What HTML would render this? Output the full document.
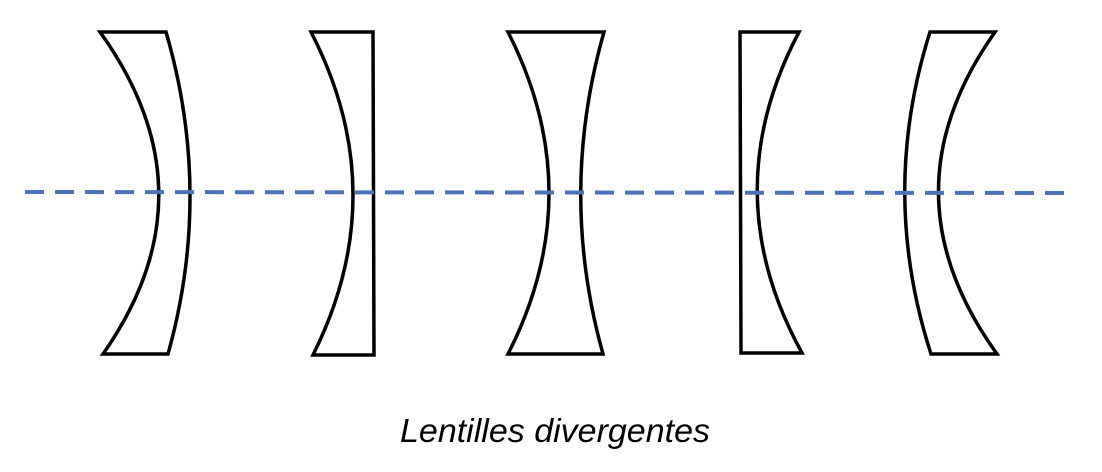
<!DOCTYPE html>
<html><head><meta charset="utf-8"><style>
html,body{margin:0;padding:0;background:#fff;}
svg{display:block}
</style></head><body>
<svg width="1102" height="472" viewBox="0 0 1102 472" xmlns="http://www.w3.org/2000/svg">
<g fill="none" stroke="#000" stroke-width="3.5" stroke-linejoin="miter">
<path d="M100,32 L166,32 Q213,193 168,354 L103,354 Q216,193 100,32 Z"/>
<path d="M311,32 L373,32 L374,355 L313,355 Q394,193 311,32 Z"/>
<path d="M508,32 L604,32 Q558,193 603,354 L508,354 Q590,193 508,32 Z"/>
<path d="M740,32 L799,32 Q714,193 802,353 L741,353 Z"/>
<path d="M930,32 L995,32 Q881,193 997,354 L931,354 Q879,193 930,32 Z"/>
</g>
<line x1="25" y1="192" x2="1072" y2="193" stroke="#4a72b8" stroke-width="4" stroke-dasharray="19,11"/>
<text x="555" y="442" text-anchor="middle" font-family="Liberation Sans, sans-serif" font-style="italic" font-size="33" textLength="310" lengthAdjust="spacingAndGlyphs" fill="#000">Lentilles divergentes</text>
</svg>
</body></html>
